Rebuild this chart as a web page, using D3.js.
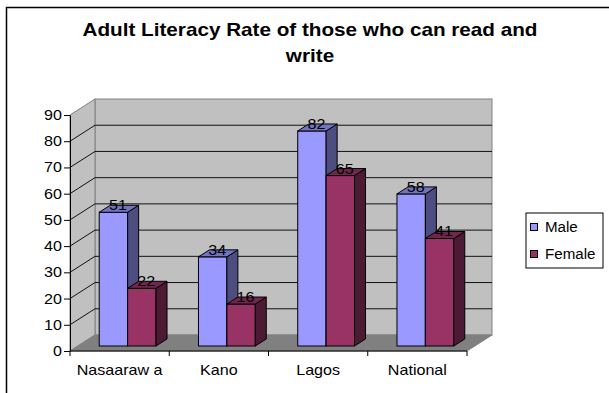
<!DOCTYPE html>
<html>
<head>
<meta charset="utf-8">
<script src="https://cdn.jsdelivr.net/npm/d3@7"></script>
<style>
body { margin: 0; background: #fff; }
text { font-family: "Liberation Sans", Arial, sans-serif; fill: #000; }
</style>
</head>
<body>
<div id="chart"></div>
<script>
const w = 609;
const h = 393;
const categories = ["Nasaaraw a", "Kano", "Lagos", "National"];
const series = ["Male", "Female"];
const male = [51, 34, 82, 58];
const female = [22, 16, 65, 41];
const yTicks = [0, 10, 20, 30, 40, 50, 60, 70, 80, 90];
const titleLines = ["Adult Literacy Rate of those who can read and", "write"];

// front plane of the plot box
const plotLeft = 70, plotRight = 467, plotBottom = 351, plotTop = 115;
const depthX = 25, depthY = -16;   // back wall offset
const barX = 8, barY = -5;         // bars sit a bit inside the box
const barDX = 11, barDY = -7;      // bar depth
const sx = 1.15;                   // text is a bit wide in the picture

const colors = {
  Male:   {front: "#9999ff", side: "#4d4d80", top: "#7373bf"},
  Female: {front: "#993366", side: "#4d1a33", top: "#73264d"}
};

const yFront = d3.scaleLinear().domain([0, 90]).range([plotBottom, plotTop]);
const yBack = v => yFront(v) + depthY;
const yBar = v => yFront(v) + barY;

const xFront = d3.scaleBand().domain(categories).range([plotLeft, plotRight]);
const xSeries = d3.scaleBand().domain(series)
  .range([0, xFront.bandwidth()])
  .paddingInner(0).paddingOuter(0.747);

const svg = d3.select("#chart").append("svg")
  .attr("width", w).attr("height", h);

// outer frame
svg.append("rect")
  .attr("x", 6.5).attr("y", 7.5)
  .attr("width", w + 20).attr("height", h + 20)
  .attr("fill", "none").attr("stroke", "#000").attr("stroke-width", 1.5);

// title
svg.selectAll(".title").data(titleLines).enter().append("text")
  .attr("class", "title")
  .attr("text-anchor", "middle")
  .attr("font-size", 18).attr("font-weight", "bold")
  .attr("transform", (d, i) => "translate(310," + (36 + i * 26) + ") scale(" + sx + ",1)")
  .text(d => d);

const pts = p => p.map(q => q.join(",")).join(" ");

// back wall
svg.append("rect")
  .attr("x", plotLeft + depthX).attr("y", yBack(90))
  .attr("width", plotRight - plotLeft).attr("height", yBack(0) - yBack(90))
  .attr("fill", "#c0c0c0").attr("stroke", "#808080");

// left wall
svg.append("polygon")
  .attr("points", pts([[plotLeft, plotBottom], [plotLeft, plotTop], [plotLeft + depthX, yBack(90)], [plotLeft + depthX, yBack(0)]]))
  .attr("fill", "#c0c0c0").attr("stroke", "#808080");

// floor
svg.append("polygon")
  .attr("points", pts([[plotLeft, plotBottom], [plotRight, plotBottom], [plotRight + depthX, yBack(0)], [plotLeft + depthX, yBack(0)]]))
  .attr("fill", "#808080").attr("stroke", "#808080");

// gridlines on back and left walls
const grid = yTicks.filter(v => v > 0 && v < 90);
svg.selectAll(".gridBack").data(grid).enter().append("line")
  .attr("x1", plotLeft + depthX).attr("x2", plotRight + depthX)
  .attr("y1", d => yBack(d)).attr("y2", d => yBack(d))
  .attr("stroke", "#111");
svg.selectAll(".gridLeft").data(grid).enter().append("line")
  .attr("x1", plotLeft).attr("x2", plotLeft + depthX)
  .attr("y1", d => yFront(d)).attr("y2", d => yBack(d))
  .attr("stroke", "#111");

// y axis
const yAxis = svg.append("g")
  .attr("transform", "translate(" + plotLeft + ",0)")
  .call(d3.axisLeft(yFront).tickValues(yTicks).tickSize(6).tickSizeOuter(0).tickPadding(3));
yAxis.select(".domain").attr("stroke", "#000");
yAxis.selectAll("text")
  .attr("font-size", 14)
  .attr("font-family", "Liberation Sans, Arial, sans-serif")
  .attr("x", -8 / sx)
  .attr("transform", "scale(" + sx + ",1)");

// category axis
svg.append("line")
  .attr("x1", plotLeft).attr("x2", plotRight)
  .attr("y1", plotBottom).attr("y2", plotBottom)
  .attr("stroke", "#000");
svg.selectAll(".catTick").data(categories.concat(["end"])).enter().append("line")
  .attr("x1", d => d === "end" ? plotRight : xFront(d))
  .attr("x2", d => d === "end" ? plotRight : xFront(d))
  .attr("y1", plotBottom).attr("y2", plotBottom + 5)
  .attr("stroke", "#000");
svg.selectAll(".catLabel").data(categories).enter().append("text")
  .attr("text-anchor", "middle")
  .attr("font-size", 14)
  .attr("transform", d => "translate(" + (xFront(d) + xFront.bandwidth() / 2) + ",375) scale(" + sx + ",1)")
  .text(d => d);

// bars
const bars = [];
series.forEach(s => {
  const vals = s === "Male" ? male : female;
  categories.forEach((c, i) => bars.push({cat: c, s: s, v: vals[i]}));
});

const bw = xSeries.bandwidth();
const bx = d => xFront(d.cat) + xSeries(d.s) + barX;

const barG = svg.selectAll(".bar").data(bars).enter().append("g").attr("class", "bar");
barG.append("rect")
  .attr("x", d => bx(d)).attr("y", d => yBar(d.v))
  .attr("width", bw).attr("height", d => yBar(0) - yBar(d.v))
  .attr("fill", d => colors[d.s].front).attr("stroke", "#000");
barG.append("polygon")
  .attr("points", d => {
    const x = bx(d) + bw, y1 = yBar(d.v), y0 = yBar(0);
    return pts([[x, y1], [x + barDX, y1 + barDY], [x + barDX, y0 + barDY], [x, y0]]);
  })
  .attr("fill", d => colors[d.s].side).attr("stroke", "#000");
barG.append("polygon")
  .attr("points", d => {
    const x = bx(d), y1 = yBar(d.v);
    return pts([[x, y1], [x + barDX, y1 + barDY], [x + bw + barDX, y1 + barDY], [x + bw, y1]]);
  })
  .attr("fill", d => colors[d.s].top).attr("stroke", "#000");

// value labels
svg.selectAll(".val").data(bars).enter().append("text")
  .attr("text-anchor", "middle")
  .attr("font-size", 14)
  .attr("transform", d => "translate(" + (bx(d) + bw / 2 + barDX / 2 - 1) + "," + (yBar(d.v) - 2) + ") scale(" + sx + ",1)")
  .text(d => d.v);

// legend
const lg = svg.append("g").attr("transform", "translate(526,213)");
lg.append("rect")
  .attr("width", 77).attr("height", 55)
  .attr("fill", "#fff").attr("stroke", "#000");
const li = lg.selectAll(".li").data(series).enter().append("g")
  .attr("transform", (d, i) => "translate(0," + (i * 27) + ")");
li.append("rect")
  .attr("x", 4.5).attr("y", 10.5).attr("width", 7).attr("height", 7)
  .attr("fill", d => colors[d].front).attr("stroke", "#000");
li.append("text")
  .attr("font-size", 14)
  .attr("transform", "translate(19,19) scale(1.08,1)")
  .text(d => d);
</script>
</body>
</html>
